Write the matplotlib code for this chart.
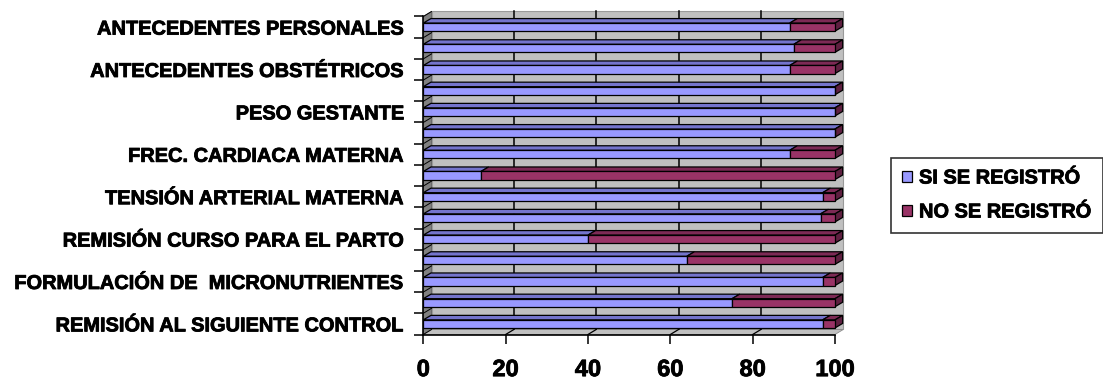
import numpy as np
import matplotlib
matplotlib.use("Agg")
import matplotlib.pyplot as plt
import matplotlib.patheffects as pe
from matplotlib.patches import Polygon

# Items checked in the prenatal-control records (top to bottom)
categories = [
    "ANTECEDENTES PERSONALES", "",
    "ANTECEDENTES OBSTÉTRICOS", "",
    "PESO GESTANTE", "",
    "FREC. CARDIACA MATERNA", "",
    "TENSIÓN ARTERIAL MATERNA", "",
    "REMISIÓN CURSO PARA EL PARTO", "",
    "FORMULACIÓN DE  MICRONUTRIENTES", "",
    "REMISIÓN AL SIGUIENTE CONTROL",
]
si_registro = [89, 90, 89, 100, 100, 100, 89, 14, 97, 96.5, 40, 64, 97, 75, 97]
no_registro = [11, 10, 11, 0, 0, 0, 11, 86, 3, 3.5, 60, 36, 3, 25, 3]
series_names = ["SI SE REGISTRÓ", "NO SE REGISTRÓ"]
x_ticks = [0, 20, 40, 60, 80, 100]

plt.rcParams["font.family"] = ["Liberation Sans", "DejaVu Sans"]
plt.rcParams["font.weight"] = "bold"

# slightly heavier strokes for all labels
heavy = [pe.withStroke(linewidth=0.6, foreground="black")]

W, H = 1103, 381
fig = plt.figure(figsize=(W / 100, H / 100), dpi=100)

n = len(categories)
px_x = 4.117          # pixels per value unit
px_y = 21.2           # pixels per category slot
x_max = 102.5
y_max = n + 0.3
left_px, bottom_px = 423.3, 334.5
ax = fig.add_axes([left_px / W, (H - bottom_px) / H,
                   x_max * px_x / W, y_max * px_y / H])
ax.set_xlim(0, x_max)
ax.set_ylim(0, y_max)

# depth offset of the 3-D box (data units)
dx, dy = 2.0, 0.236
bdx, bdy = dx * 0.93, dy * 0.9    # depth of the bars
h = 0.19                          # half height of a bar's front face
edge = dict(edgecolor="black", linewidth=0.9)

wall_c, side_c = "#C0C0C0", "#808080"
vmax = x_ticks[-1]

# back wall, left wall and floor
ax.add_patch(Polygon([(dx, dy), (vmax + dx, dy), (vmax + dx, n + dy), (dx, n + dy)],
                     closed=True, facecolor=wall_c, edgecolor="#9A9A9A", linewidth=0.8, zorder=0))
ax.add_patch(Polygon([(0, 0), (dx, dy), (dx, n + dy), (0, n)],
                     closed=True, facecolor=side_c, edgecolor="#5A5A5A", linewidth=0.6, zorder=0))
ax.add_patch(Polygon([(0, 0), (vmax, 0), (vmax + dx, dy), (dx, dy)],
                     closed=True, facecolor=wall_c, edgecolor="#8A8A8A", linewidth=0.6, zorder=0))

# value gridlines on the back wall and floor
for t in x_ticks[1:-1]:
    ax.plot([t + dx, t + dx], [dy, n + dy], color="black", linewidth=1.1, zorder=1)
    ax.plot([t, t + dx], [0, dy], color="black", linewidth=0.9, zorder=1)
# category divisions on the left wall
for k in range(n + 1):
    ax.plot([0, dx], [k, k + dy], color="black", linewidth=0.7, zorder=1)

# bars: front faces through barh, top and end faces from the same values
ypos = np.arange(n)[::-1] + 0.5
si = np.array(si_registro, dtype=float)
no = np.array(no_registro, dtype=float)

blue, blue_top = "#9999FF", "#7474CC"
red, red_top, red_side = "#993366", "#7D2A55", "#5E1F40"

b1 = ax.barh(ypos, si, height=2 * h, left=0, color=blue, label=series_names[0],
             zorder=3, **edge)
b2 = ax.barh(ypos, no, height=2 * h, left=si, color=red, label=series_names[1],
             zorder=3, **edge)

for y, a, b in zip(ypos, si, no):
    end = a + b
    ax.add_patch(Polygon([(0, y + h), (a, y + h), (a + bdx, y + h + bdy), (bdx, y + h + bdy)],
                         closed=True, facecolor=blue_top, zorder=2, **edge))
    ax.add_patch(Polygon([(a, y + h), (end, y + h), (end + bdx, y + h + bdy), (a + bdx, y + h + bdy)],
                         closed=True, facecolor=red_top, zorder=2, **edge))
    ax.add_patch(Polygon([(end, y - h), (end + bdx, y - h + bdy), (end + bdx, y + h + bdy), (end, y + h)],
                         closed=True, facecolor=red_side, zorder=2, **edge))

# axes
for s in ("top", "right"):
    ax.spines[s].set_visible(False)
ax.spines["bottom"].set_bounds(0, vmax)
ax.spines["left"].set_bounds(0, n)
for s in ("bottom", "left"):
    ax.spines[s].set_linewidth(1.2)
    ax.spines[s].set_zorder(4)

ax.set_xticks(x_ticks)
ax.set_xticklabels([str(t) for t in x_ticks], fontsize=17, fontweight="bold")
ax.tick_params(axis="x", direction="out", length=6.5, width=1.1, pad=10.5)

ax.set_yticks(np.arange(n + 1))
ax.set_yticklabels([])
ax.tick_params(axis="y", which="major", direction="out", length=6.5, width=1.1)
ax.set_yticks(ypos, minor=True)
ax.set_yticklabels(categories, minor=True, fontsize=14.4, fontweight="bold")
ax.tick_params(axis="y", which="minor", length=0, pad=13.5)

for lab in ax.get_xticklabels() + ax.get_yticklabels(minor=True):
    lab.set_path_effects(heavy)

leg = fig.legend(handles=[b1, b2], labels=series_names,
                 loc="center", bbox_to_anchor=(891 / W, 1 - 233 / H, 212 / W, 76 / H),
                 mode="expand", ncol=1, frameon=True, fancybox=False,
                 prop={"size": 14.4, "weight": "bold"},
                 handlelength=0.5, handleheight=0.5, handletextpad=0.35,
                 labelspacing=0.75, borderpad=0.55, borderaxespad=0)
leg.get_frame().set_edgecolor("black")
leg.get_frame().set_linewidth(1.2)
for t in leg.get_texts():
    t.set_path_effects(heavy)

fig.savefig("out.png", dpi=100)
